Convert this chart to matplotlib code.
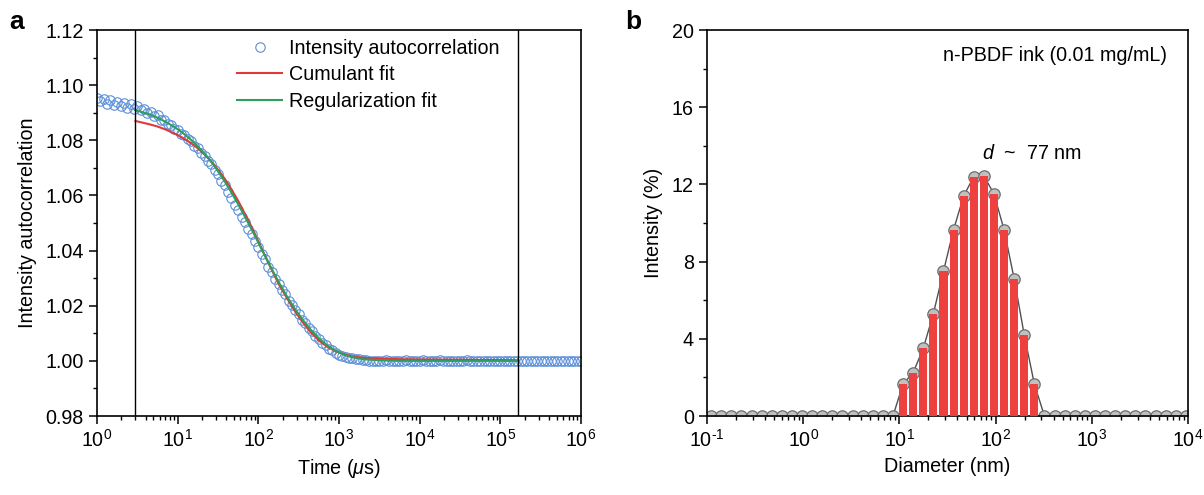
import numpy as np
import matplotlib
matplotlib.use("Agg")
import matplotlib.pyplot as plt
from matplotlib.ticker import LogLocator, MultipleLocator, NullFormatter, FixedLocator, FuncFormatter

plt.rcParams['font.family'] = ['Liberation Sans', 'DejaVu Sans']
plt.rcParams['mathtext.fontset'] = 'custom'
plt.rcParams['mathtext.rm'] = 'Liberation Sans'
plt.rcParams['mathtext.it'] = 'Liberation Sans:italic'
plt.rcParams['mathtext.default'] = 'regular'
plt.rcParams['axes.unicode_minus'] = False

# ---------------- Panel a data ----------------
# log10 of delay time (us)
time_log = [0.000, 0.042, 0.083, 0.125, 0.167, 0.208, 0.250, 0.292, 0.333, 0.375, 0.417, 0.458,
            0.500, 0.542, 0.583, 0.625, 0.667, 0.708, 0.750, 0.792, 0.833, 0.875, 0.917, 0.958,
            1.000, 1.042, 1.083, 1.125, 1.167, 1.208, 1.250, 1.292, 1.333, 1.375, 1.417, 1.458,
            1.500, 1.542, 1.583, 1.625, 1.667, 1.708, 1.750, 1.792, 1.833, 1.875, 1.917, 1.958,
            2.000, 2.042, 2.083, 2.125, 2.167, 2.208, 2.250, 2.292, 2.333, 2.375, 2.417, 2.458,
            2.500, 2.542, 2.583, 2.625, 2.667, 2.708, 2.750, 2.792, 2.833, 2.875, 2.917, 2.958,
            3.000, 3.042, 3.083, 3.125, 3.167, 3.208, 3.250, 3.292, 3.333, 3.375, 3.417, 3.458,
            3.500, 3.542, 3.583, 3.625, 3.667, 3.708, 3.750, 3.792, 3.833, 3.875, 3.917, 3.958,
            4.000, 4.042, 4.083, 4.125, 4.167, 4.208, 4.250, 4.292, 4.333, 4.375, 4.417, 4.458,
            4.500, 4.542, 4.583, 4.625, 4.667, 4.708, 4.750, 4.792, 4.833, 4.875, 4.917, 4.958,
            5.000, 5.042, 5.083, 5.125, 5.167, 5.208, 5.250, 5.292, 5.333, 5.375, 5.417, 5.458,
            5.500, 5.542, 5.583, 5.625, 5.667, 5.708, 5.750, 5.792, 5.833, 5.875, 5.917, 5.958,
            6.000]
autocorr = [1.0955, 1.0942, 1.0950, 1.0932, 1.0946, 1.0928, 1.0940, 1.0924, 1.0937, 1.0918,
            1.0932, 1.0914, 1.0926, 1.0910, 1.0914, 1.0900, 1.0903, 1.0889, 1.0890, 1.0874,
            1.0875, 1.0858, 1.0856, 1.0841, 1.0839, 1.0823, 1.0820, 1.0805, 1.0799, 1.0780,
            1.0772, 1.0753, 1.0744, 1.0725, 1.0713, 1.0691, 1.0679, 1.0654, 1.0637, 1.0611,
            1.0592, 1.0566, 1.0547, 1.0522, 1.0504, 1.0479, 1.0460, 1.0433, 1.0414, 1.0387,
            1.0368, 1.0341, 1.0323, 1.0298, 1.0280, 1.0256, 1.0241, 1.0217, 1.0204, 1.0183,
            1.0170, 1.0150, 1.0139, 1.0119, 1.0109, 1.0091, 1.0081, 1.0066, 1.0058, 1.0043,
            1.0038, 1.0027, 1.0023, 1.0016, 1.0015, 1.0009, 1.0009, 1.0005, 1.0005, 1.0002,
            1.0002, 0.9999, 1.0001, 1.0000, 0.9998, 1.0001, 1.0002, 0.9999, 1.0000, 1.0001,
            0.9998, 1.0000, 1.0002, 0.9999, 1.0001, 1.0000, 0.9999, 1.0002, 1.0000, 0.9998,
            1.0001, 1.0000, 1.0002, 0.9999, 1.0000, 1.0001, 0.9998, 1.0000, 1.0001, 0.9999,
            1.0002, 1.0000, 0.9999, 1.0001, 1.0000, 0.9998, 1.0001, 1.0000, 0.9999, 1.0001,
            1.0000, 0.9999, 1.0000, 1.0001, 0.9999, 1.0000, 1.0001, 0.9999, 1.0000, 1.0001,
            0.9999, 1.0000, 1.0001, 1.0000, 0.9999, 1.0000, 1.0001, 0.9999, 1.0000, 1.0000,
            1.0001, 0.9999, 1.0000, 1.0001, 1.0000]

fit_log = [0.477, 0.55, 0.65, 0.75, 0.85, 0.95, 1.05, 1.15, 1.25, 1.35, 1.45, 1.55, 1.65,
           1.75, 1.85, 1.95, 2.05, 2.15, 2.25, 2.35, 2.45, 2.55, 2.65, 2.75, 2.85, 2.95,
           3.05, 3.15, 3.3, 3.5, 3.75, 4.0, 4.5, 5.0, 5.217]
cumulant_fit = [1.0870, 1.0865, 1.0858, 1.0850, 1.0839, 1.0826, 1.0811, 1.0793, 1.0771, 1.0744,
                1.0712, 1.0674, 1.0630, 1.0580, 1.0524, 1.0465, 1.0402, 1.0340, 1.0280, 1.0230,
                1.0182, 1.0140, 1.0104, 1.0074, 1.0052, 1.0036, 1.0025, 1.0017, 1.0011, 1.0008,
                1.0006, 1.0005, 1.0004, 1.0003, 1.0002]
regularization_fit = [1.0910, 1.0903, 1.0894, 1.0882, 1.0867, 1.0850, 1.0830, 1.0806, 1.0778, 1.0746,
                      1.0709, 1.0666, 1.0619, 1.0568, 1.0514, 1.0458, 1.0400, 1.0342, 1.0287, 1.0236,
                      1.0190, 1.0149, 1.0113, 1.0082, 1.0057, 1.0038, 1.0024, 1.0014, 1.0006, 1.0002,
                      1.0000, 1.0000, 1.0000, 1.0000, 1.0000]
window_lines = [3.0, 1.65e5]

# ---------------- Panel b data ----------------
diameter_nm = [0.1104, 0.1406, 0.1791, 0.2280, 0.2904, 0.3698, 0.4710, 0.5998, 0.7638, 0.9727,
               1.239, 1.578, 2.009, 2.559, 3.258, 4.150, 5.284, 6.730, 8.570, 10.91,
               13.90, 17.70, 22.54, 28.71, 36.56, 46.56, 59.29, 75.51, 96.16, 122.5,
               156.0, 198.6, 252.9, 322.1, 410.2, 522.4, 665.3, 847.2, 1079, 1374,
               1750, 2228, 2838, 3614, 4603, 5861, 7464, 9506]
intensity_pct = [0]*19 + [1.65, 2.25, 3.5, 5.3, 7.5, 9.65, 11.4, 12.4, 12.45, 11.5,
                          9.65, 7.1, 4.2, 1.65] + [0]*15

FS = 14.2


def pow10_label(v, pos):
    e = int(round(np.log10(v)))
    s = str(e).replace('-', '\u2010')
    return r'$10^{%s}$' % s


fig = plt.figure(figsize=(12.04, 4.95), dpi=100)
ax1 = fig.add_axes([97/1204, 79/495, 484/1204, 386/495])
ax2 = fig.add_axes([707/1204, 79/495, 481/1204, 386/495])

# ---- panel a ----
t = 10 ** np.array(time_log)
tf = 10 ** np.array(fit_log)
ax1.plot(t, autocorr, linestyle='none', marker='o', markersize=6.8,
         markerfacecolor='none', markeredgecolor='#5b8fd9', markeredgewidth=0.8,
         label='Intensity autocorrelation', zorder=2)
ax1.plot(tf, cumulant_fit, color='#e0393b', lw=1.5, label='Cumulant fit', zorder=3)
ax1.plot(tf, regularization_fit, color='#2e9e5b', lw=1.5, label='Regularization fit', zorder=4)
for xv in window_lines:
    ax1.axvline(xv, color='black', lw=1.0, zorder=5)
ax1.set_xscale('log')
ax1.set_xlim(1, 1e6)
ax1.set_ylim(0.98, 1.12)
yt = [0.98, 1.00, 1.02, 1.04, 1.06, 1.08, 1.10, 1.12]
ax1.yaxis.set_major_locator(FixedLocator(yt))
ax1.set_yticklabels(['%.2f' % v for v in yt])
ax1.yaxis.set_minor_locator(MultipleLocator(0.01))
ax1.set_xlabel(r'Time ($\mathit{\mu}$s)', fontsize=FS, labelpad=4)
ax1.set_ylabel('Intensity autocorrelation', fontsize=FS, labelpad=6)
leg = ax1.legend(loc='upper left', bbox_to_anchor=(140/484, 0.977), frameon=False,
                 fontsize=FS, handlelength=2.3, handletextpad=0.35, labelspacing=0.38,
                 borderaxespad=0, borderpad=0)

# ---- panel b ----
d = np.array(diameter_nm)
h = np.array(intensity_pct)
ax2.plot(d, h, color='#505050', lw=1.0, marker='o', markersize=8.2,
         markerfacecolor='#c0c0c0', markeredgecolor='#6e6e6e', markeredgewidth=0.9, zorder=2)
lo = d * 10 ** -0.042
hi = d * 10 ** 0.042
mask = h > 0
ax2.bar(lo[mask], h[mask], width=(hi - lo)[mask], align='edge', color='#ef4040',
        edgecolor='none', zorder=3)
ax2.set_xscale('log')
ax2.set_xlim(0.1, 1e4)
ax2.set_ylim(0, 20)
ax2.yaxis.set_major_locator(MultipleLocator(4))
ax2.yaxis.set_minor_locator(MultipleLocator(2))
ax2.set_xlabel('Diameter (nm)', fontsize=FS, labelpad=4)
ax2.set_ylabel('Intensity (%)', fontsize=FS, labelpad=6)
ax2.text(0.956, 0.935, 'n-PBDF ink (0.01 mg/mL)', transform=ax2.transAxes,
         ha='right', va='center', fontsize=FS)
ax2.text(0.676, 0.681, r'$\mathit{d}$  ~  77 nm', transform=ax2.transAxes,
         ha='center', va='center', fontsize=FS)

for ax in (ax1, ax2):
    ax.xaxis.set_major_locator(LogLocator(base=10, numticks=10))
    ax.xaxis.set_major_formatter(FuncFormatter(pow10_label))
    ax.xaxis.set_minor_locator(LogLocator(base=10, subs=np.arange(2, 10), numticks=20))
    ax.xaxis.set_minor_formatter(NullFormatter())
    for s in ax.spines.values():
        s.set_linewidth(1.2)
    ax.tick_params(which='major', direction='out', length=5.5, width=1.1, labelsize=FS,
                   top=False, right=False, pad=4)
    ax.tick_params(which='minor', direction='out', length=3, width=1.0, top=False, right=False)

fig.text(9/1204, 1 - 22/495, 'a', fontsize=19, fontweight='bold', ha='left', va='center')
fig.text(625/1204, 1 - 22/495, 'b', fontsize=19, fontweight='bold', ha='left', va='center')

fig.savefig('out.png', dpi=100)
